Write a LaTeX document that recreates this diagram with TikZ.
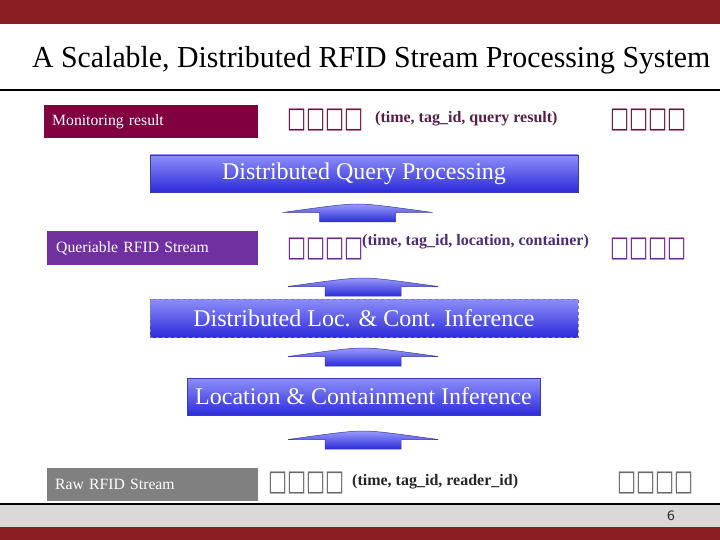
\documentclass[tikz,border=0pt]{standalone}
\usepackage{fontspec}
\setmainfont{Liberation Serif}
\newfontfamily\tofu{DejaVu Sans}
\definecolor{bandred}{HTML}{8B1E22}
\definecolor{wine}{HTML}{800040}
\definecolor{purp}{HTML}{7030A0}
\definecolor{rawgray}{HTML}{808080}
\definecolor{foot}{HTML}{D9D9D9}
\definecolor{bluetop}{HTML}{8E8EFA}
\definecolor{bluebot}{HTML}{2C2CDA}
\definecolor{blueedge}{HTML}{3A3AA8}
\definecolor{dashedge}{HTML}{7878B0}
\definecolor{winetxt}{HTML}{5A1E46}
\definecolor{purptxt}{HTML}{4E2A78}
\definecolor{winebox}{HTML}{6E1040}
\definecolor{purpbox}{HTML}{6A2A90}
\definecolor{graybox}{HTML}{6A6A6A}
\newcommand{\tofurow}{\scalebox{0.84}[1.2]{□□□□}}
\tikzset{
  layerbox/.style={draw=blueedge, line width=0.6pt, top color=bluetop, bottom color=bluebot,
    text=white, font=\fontsize{24}{28}\selectfont, inner sep=0pt},
  streambox/.style={text=white, font=\fontsize{15.7}{18}\selectfont, align=left,
    inner xsep=8pt, inner ysep=0pt, text width=198pt, minimum height=33pt, anchor=west},
  tuple/.style={font=\bfseries\fontsize{16}{18}\selectfont, inner sep=0pt, anchor=west},
  tofubox/.style={font=\tofu\fontsize{24}{26}\selectfont, inner sep=0pt, anchor=west},
  arrowshape/.style={draw=blueedge, line width=0.5pt, top color=bluetop!90!white, bottom color=bluebot},
  pics/uparrow/.style={code={
    \path[arrowshape] (-75,8.5) .. controls (-35,3) and (-15,0) .. (0,0)
      .. controls (15,0) and (35,3) .. (75,8.5) -- (38,8.5) -- (38,18) -- (-38,18) -- (-38,8.5) -- cycle;
  }}
}
\begin{document}
\begin{tikzpicture}[x=1pt,y=-1pt]
\useasboundingbox (0,0) rectangle (720,540);
% bands
\fill[bandred] (0,0) rectangle (720,24);
\fill[foot] (0,505) rectangle (720,527);
\fill[bandred] (0,527) rectangle (720,540);
\draw[line width=2pt] (0,90) -- (720,90);
\draw[line width=2pt] (0,504) -- (720,504);
% title
\node[anchor=base west, inner sep=0pt, font=\fontsize{30.5}{34}\selectfont] (title) at (32,68)
  {\resizebox{678pt}{\height}{A Scalable, Distributed RFID Stream Processing System}};
% stream boxes
\node[streambox, fill=wine] (mon) at (44,121.5) {Monitoring result};
\node[streambox, fill=purp, inner xsep=9pt, text width=193pt] (que) at (47,248) {Queriable RFID Stream};
\node[streambox, fill=rawgray, text width=195pt] (raw) at (47,484.5) {Raw RFID Stream};
% tofu and tuples
\node[tofubox, text=winebox] (t1a) at (287,120.5) {\tofurow};
\node[tuple, text=winetxt] (q1) at (375,119) {(time, tag\_id, query result)};
\node[tofubox, text=winebox] (t1b) at (610,120.5) {\tofurow};
\node[tofubox, text=purpbox] (t2a) at (287,249) {\tofurow};
\node[tuple, text=purptxt] (q2) at (362,242) {(time, tag\_id, location, container)};
\node[tofubox, text=purpbox] (t2b) at (610,249) {\tofurow};
\node[tofubox, text=graybox] (t3a) at (268,483.5) {\tofurow};
\node[tuple, text=black!85] (q3) at (352,482) {(time, tag\_id, reader\_id)};
\node[tofubox, text=graybox] (t3b) at (617,483.5) {\tofurow};
% layer boxes
\node[layerbox, minimum width=428pt, minimum height=37pt] (dqp) at (364,173.5) {Distributed Query Processing};
\node[layerbox, draw=dashedge, dashed, minimum width=428pt, minimum height=38pt] (dlci) at (364,318) {Distributed Loc. \& Cont. Inference};
\node[layerbox, minimum width=353pt, minimum height=37pt] (lci) at (363.5,396.5) {Location \& Containment Inference};
% block arrows
\pic (a1) at (357.5,204) {uparrow};
\pic (a2) at (363,278) {uparrow};
\pic (a3) at (363,348) {uparrow};
\pic (a4) at (363,431) {uparrow};
% page number
\node[font=\tofu\fontsize{13}{15}\selectfont, text=black!80, inner sep=0pt] (pg) at (671,516) {6};
\end{tikzpicture}
\end{document}
